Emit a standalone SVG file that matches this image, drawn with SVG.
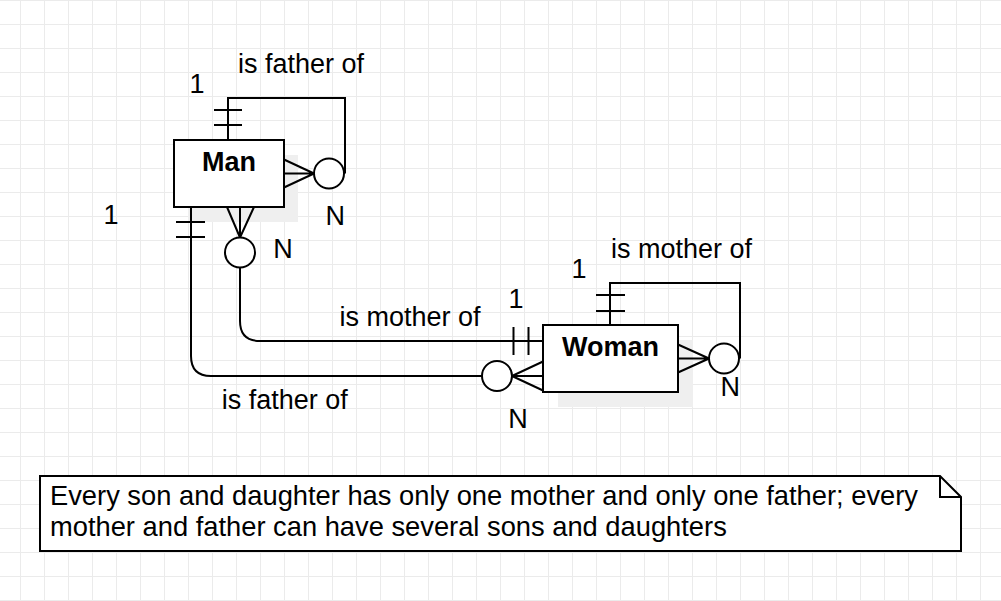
<svg xmlns="http://www.w3.org/2000/svg" width="1001" height="601" viewBox="0 0 1001 601">
  <defs>
    <pattern id="grid" x="20" y="0" width="24" height="24" patternUnits="userSpaceOnUse">
      <path d="M0.5 0 V24 M0 0.5 H24" stroke="#ebebeb" stroke-width="1" fill="none"/>
    </pattern>
    <style>
      .ln { fill: none; stroke: #000; stroke-width: 2; }
      .circ { fill: #fff; stroke: #000; stroke-width: 2; }
      .box { fill: #fff; stroke: #000; stroke-width: 2; }
      .shadow { fill: #efefef; stroke: none; }
      .lbl { font-family: "Liberation Sans", Arial, sans-serif; font-size: 27px; fill: #000; text-anchor: middle; }
      .title { font-family: "Liberation Sans", Arial, sans-serif; font-size: 27px; font-weight: bold; fill: #000; text-anchor: middle; }
      .note { font-family: "Liberation Sans", Arial, sans-serif; font-size: 27.3px; fill: #000; }
    </style>
  </defs>
  <rect x="0" y="0" width="1001" height="601" fill="#fff"/>
  <rect x="0" y="0" width="1001" height="601" fill="url(#grid)"/>

  <g id="man">
    <rect class="shadow" x="188" y="155" width="110" height="67"/>
    <rect class="box" x="174" y="140" width="110" height="67"/>
    <text class="title" x="229" y="170.7">Man</text>
  </g>

  <g id="woman">
    <rect class="shadow" x="558" y="340" width="135" height="67"/>
    <rect class="box" x="543" y="325" width="135" height="67"/>
    <text class="title" x="610.5" y="356">Woman</text>
  </g>

  <g id="connectors">
    <!-- Man is father of Man (self loop) -->
    <path class="ln" d="M228 140 V98 H345 V173.5"/>
    <path class="ln" d="M214 110 H242 M214 125 H242"/>
    <path class="ln" d="M284 159.5 L314 173.5 M284 173.5 H314 M284 187.5 L314 173.5"/>
    <circle class="circ" cx="329" cy="173.5" r="15"/>

    <!-- Woman is mother of Man -->
    <path class="ln" d="M227 207 L240 237.5 M240 207 V237.5 M254 207 L240 237.5"/>
    <circle class="circ" cx="240" cy="252.5" r="15"/>
    <path class="ln" d="M240 267.5 V321 Q240 341 260 341 H543"/>
    <path class="ln" d="M513.5 327 V355 M528.5 327 V355"/>

    <!-- Man is father of Woman -->
    <path class="ln" d="M191 207 V356 Q191 376 211 376 H482"/>
    <path class="ln" d="M176 222 H205 M176 237 H205"/>
    <circle class="circ" cx="497" cy="376" r="15"/>
    <path class="ln" d="M512 376 L543 361.5 M512 376 H543 M512 376 L543 390.5"/>

    <!-- Woman is mother of Woman (self loop) -->
    <path class="ln" d="M610 325 V283 H740 V358.5"/>
    <path class="ln" d="M596 295 H625 M596 311 H625"/>
    <path class="ln" d="M678 344.5 L709 358.5 M678 358.5 H709 M678 372.5 L709 358.5"/>
    <circle class="circ" cx="724" cy="358.5" r="15"/>
  </g>

  <g id="labels">
    <text class="lbl" x="197" y="93.3">1</text>
    <text class="lbl" x="301" y="73.3">is father of</text>
    <text class="lbl" x="111" y="224">1</text>
    <text class="lbl" x="335.3" y="225">N</text>
    <text class="lbl" x="283" y="258.3">N</text>
    <text class="lbl" x="410" y="325.7">is mother of</text>
    <text class="lbl" x="516" y="308.3">1</text>
    <text class="lbl" x="284.7" y="409.3">is father of</text>
    <text class="lbl" x="579" y="277.7">1</text>
    <text class="lbl" x="681.5" y="258.3">is mother of</text>
    <text class="lbl" x="730.3" y="395.7">N</text>
    <text class="lbl" x="518" y="428.3">N</text>
  </g>

  <g id="note">
    <path class="box" d="M40 476 H940 L961 497 V551 H40 Z"/>
    <path class="ln" d="M940 476 V497 H961"/>
    <text class="note" x="50" y="504.5">Every son and daughter has only one mother and only one father; every</text>
    <text class="note" x="50" y="535.5">mother and father can have several sons and daughters</text>
  </g>
</svg>
